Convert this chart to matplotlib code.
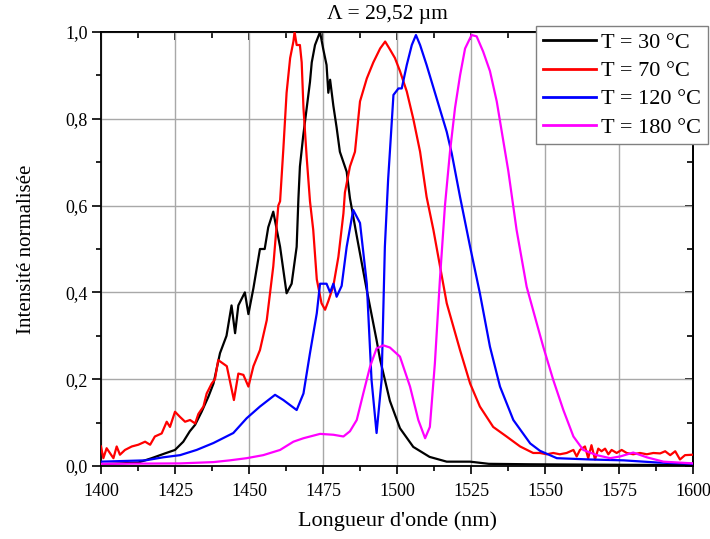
import matplotlib
matplotlib.use("Agg")
import matplotlib.pyplot as plt
from matplotlib.ticker import MultipleLocator, FuncFormatter

plt.rcParams['font.family'] = ['Liberation Serif', 'DejaVu Serif']

title = "Λ = 29,52 µm"
xlabel = "Longueur d'onde (nm)"
ylabel = "Intensité normalisée"
labels = ["T = 30 °C", "T = 70 °C", "T = 120 °C", "T = 180 °C"]
colors = ["#000000", "#ff0000", "#0000ff", "#ff00ff"]

# T = 30 °C
x30 = [1400, 1412.6, 1417.1, 1421.6, 1425, 1427.8, 1430, 1431.8, 1434, 1436.3, 1438,
       1440.2, 1442.4, 1444.1, 1445.3, 1446.4, 1448.6, 1449.8, 1451.5, 1453.7, 1455.3,
       1456.5, 1458.2, 1460.5, 1462.7, 1464.4, 1466.1, 1466.7, 1467.2, 1468.3, 1469.5,
       1470.6, 1471.2, 1472.3, 1474, 1475.1, 1476.2, 1476.8, 1477.4, 1478.5, 1479.6,
       1480.7, 1483, 1484.1, 1486.4, 1489.8, 1493.1, 1494.3, 1497.6, 1501, 1505.5,
       1511, 1516.8, 1524.7, 1531, 1545, 1570, 1600]
y30 = [0.004, 0.008, 0.018, 0.029, 0.037, 0.056, 0.08, 0.095, 0.125, 0.16, 0.19,
       0.26, 0.30, 0.37, 0.306, 0.37, 0.40, 0.35, 0.41, 0.50, 0.50,
       0.55, 0.586, 0.505, 0.398, 0.42, 0.505, 0.617, 0.69, 0.76, 0.825,
       0.885, 0.93, 0.97, 1.0, 0.96, 0.924, 0.86, 0.89, 0.83, 0.78,
       0.724, 0.678, 0.617, 0.53, 0.405, 0.29, 0.245, 0.15, 0.087, 0.044,
       0.021, 0.01, 0.01, 0.005, 0.004, 0.003, 0.002]

# T = 70 °C
x70 = [1400, 1400.8, 1401.9, 1403, 1404.2, 1405.3, 1406.4, 1408.1, 1410.4, 1412.6,
       1414.9, 1416.6, 1418.2, 1420.5, 1422.2, 1423.3, 1425, 1426.7, 1428.4, 1430.1,
       1431.8, 1432.9, 1434.6, 1435.7, 1437.4, 1438.5, 1439.6, 1442.5, 1444.9, 1446.4,
       1448.1, 1449.8, 1451.5, 1453.7, 1456, 1458.2, 1459.9, 1460.5, 1461.6, 1462.7,
       1463.9, 1465, 1465.4, 1466.1, 1467.2, 1467.8, 1468.4, 1469.5, 1470.6, 1471.7,
       1472.9, 1474.5, 1475.7, 1476.8, 1478.5, 1480.2, 1481.9, 1482.4, 1484.1, 1485.8,
       1487.5, 1489.8, 1492, 1494.3, 1496, 1497.6, 1499.3, 1501, 1503.3, 1505.5,
       1507.8, 1510, 1512.3, 1516.8, 1521.3, 1524.7, 1528, 1532.5, 1537, 1541.6,
       1546, 1548.3, 1550.6, 1552.8, 1555, 1557.3, 1559.6, 1560.7, 1561.8, 1563.5,
       1564.6, 1565.7, 1566.9, 1568, 1569.1, 1570.3, 1571.4, 1572.5, 1574.2, 1575.9,
       1577.6, 1579.8, 1582.1, 1584.4, 1586.6, 1588.9, 1590.6, 1592.3, 1594, 1595.6,
       1597.3, 1600]
y70 = [0.045, 0.018, 0.041, 0.03, 0.018, 0.045, 0.026, 0.037, 0.045, 0.049,
       0.056, 0.049, 0.068, 0.075, 0.102, 0.09, 0.125, 0.113, 0.102, 0.106,
       0.098, 0.12, 0.137, 0.167, 0.19, 0.2, 0.244, 0.23, 0.152, 0.213,
       0.21, 0.183, 0.23, 0.267, 0.336, 0.46, 0.60, 0.61, 0.73, 0.86,
       0.94, 0.978, 1.0, 0.97, 0.97, 0.93, 0.825, 0.71, 0.61, 0.544,
       0.43, 0.375, 0.36, 0.38, 0.415, 0.482, 0.582, 0.63, 0.69, 0.724,
       0.84, 0.893, 0.93, 0.962, 0.978, 0.96, 0.94, 0.91, 0.863, 0.80,
       0.724, 0.62, 0.544, 0.375, 0.267, 0.19, 0.137, 0.09, 0.068, 0.045,
       0.03, 0.03, 0.027, 0.03, 0.027, 0.03, 0.037, 0.022, 0.037, 0.045,
       0.018, 0.048, 0.015, 0.04, 0.034, 0.04, 0.027, 0.037, 0.03, 0.037,
       0.03, 0.027, 0.03, 0.027, 0.03, 0.029, 0.034, 0.025, 0.034, 0.015,
       0.025, 0.026]

# T = 120 °C
x120 = [1400, 1415, 1421, 1426.7, 1432.3, 1438, 1444.7, 1449.2, 1453.7, 1458.8,
        1461.6, 1466.1, 1468.4, 1470.6, 1472.9, 1474, 1476.2, 1477.4, 1478.5, 1479.6,
        1481.3, 1483, 1485.2, 1487.5, 1489.8, 1491.4, 1493.1, 1494.8, 1495.9, 1497,
        1497.6, 1498.8, 1500.5, 1501.6, 1503.3, 1505, 1506.4, 1507.8, 1510, 1513.4,
        1516.8, 1518.5, 1521.3, 1524.7, 1528, 1531.4, 1534.8, 1539.3, 1545, 1548.3,
        1554, 1565.3, 1576.6, 1587.9, 1600]
y120 = [0.01, 0.013, 0.02, 0.025, 0.037, 0.053, 0.076, 0.11, 0.137, 0.164,
        0.152, 0.129, 0.167, 0.26, 0.352, 0.42, 0.42, 0.40, 0.42, 0.39,
        0.415, 0.505, 0.59, 0.56, 0.42, 0.198, 0.076, 0.198, 0.505, 0.66,
        0.724, 0.855, 0.87, 0.87, 0.924, 0.97, 0.993, 0.97, 0.924, 0.847,
        0.77, 0.72, 0.62, 0.505, 0.398, 0.275, 0.183, 0.106, 0.052, 0.035,
        0.018, 0.015, 0.013, 0.008, 0.005]

# T = 180 °C
x180 = [1400, 1426.7, 1438, 1443.5, 1449.2, 1454.8, 1460.5, 1465, 1468.4, 1474,
        1478.5, 1481.9, 1484.1, 1486.4, 1488.6, 1490.9, 1493.1, 1495.4, 1497.6, 1501,
        1504.4, 1507.2, 1509.5, 1511.1, 1512.8, 1514.5, 1516.2, 1517.9, 1519.6, 1521.3,
        1523, 1525.2, 1526.9, 1529.1, 1531.4, 1533.7, 1535.4, 1537.6, 1540.4, 1543.8,
        1547.2, 1549.4, 1552.8, 1556.2, 1559.6, 1562.9, 1567.5, 1572, 1575.4, 1579.8,
        1584.4, 1590, 1600]
y180 = [0.005, 0.006, 0.009, 0.013, 0.018, 0.025, 0.037, 0.056, 0.064, 0.074,
        0.072, 0.068, 0.08, 0.106, 0.167, 0.229, 0.271, 0.278, 0.273, 0.252,
        0.183, 0.106, 0.064, 0.09, 0.237, 0.43, 0.60, 0.724, 0.825, 0.90,
        0.962, 0.993, 0.99, 0.955, 0.91, 0.84, 0.77, 0.68, 0.544, 0.413,
        0.329, 0.275, 0.198, 0.129, 0.068, 0.037, 0.025, 0.018, 0.022, 0.031,
        0.02, 0.01, 0.006]

series = [(x30, y30), (x70, y70), (x120, y120), (x180, y180)]

fig = plt.figure(figsize=(7.10, 5.39), dpi=100)
ax = fig.add_axes([101/710, 1 - 466/539, (693 - 101)/710, (466 - 32)/539])

for (xs, ys), c, lab in zip(series, colors, labels):
    ax.plot(xs, ys, color=c, lw=1.6, label=lab, zorder=3)

ax.set_xlim(1400, 1600)
ax.set_ylim(0, 1.0)
ax.xaxis.set_major_locator(MultipleLocator(25))
ax.xaxis.set_minor_locator(MultipleLocator(12.5))
ax.yaxis.set_major_locator(MultipleLocator(0.2))
ax.yaxis.set_minor_locator(MultipleLocator(0.1))
ax.yaxis.set_major_formatter(FuncFormatter(lambda v, p: f"{v:.1f}".replace('.', ',')))
ax.grid(True, which='major', color='#a8a8a8', lw=1.0, zorder=0)

for sp in ax.spines.values():
    sp.set_linewidth(1.3)
ax.tick_params(which='both', direction='out', labelsize=13, width=1.2)
ax.tick_params(axis='x', which='major', length=6, pad=6)
ax.tick_params(axis='y', which='major', length=6.5, pad=3)
ax.tick_params(which='minor', length=3.5)
# inward ticks on top/right
ax2x = ax.secondary_xaxis('top')
ax2x.xaxis.set_major_locator(MultipleLocator(25))
ax2x.xaxis.set_minor_locator(MultipleLocator(12.5))
ax2x.tick_params(which='both', direction='in', labeltop=False, width=1.2)
ax2x.tick_params(which='major', length=6)
ax2x.tick_params(which='minor', length=4)
ax2x.spines['top'].set_linewidth(1.3)
ax2y = ax.secondary_yaxis('right')
ax2y.yaxis.set_major_locator(MultipleLocator(0.2))
ax2y.yaxis.set_minor_locator(MultipleLocator(0.1))
ax2y.tick_params(which='both', direction='in', labelright=False, width=1.2)
ax2y.tick_params(which='major', length=6)
ax2y.tick_params(which='minor', length=4)
ax2y.spines['right'].set_linewidth(1.3)

ax.set_xlabel(xlabel, fontsize=16, labelpad=8)
ax.set_ylabel(ylabel, fontsize=15, labelpad=21)
fig.text(387/710, 1 - 14/539, title, fontsize=15.5, ha='center', va='center')

leg = fig.legend(loc='upper left', bbox_to_anchor=(536/710, 1 - 26/539),
                 bbox_transform=fig.transFigure, fontsize=16, frameon=True,
                 fancybox=False, edgecolor='#808080', framealpha=1,
                 handlelength=2.4, handletextpad=0.23, labelspacing=0.34,
                 borderpad=0.3, borderaxespad=0)
leg.get_frame().set_linewidth(1.0)
for h in leg.get_lines():
    h.set_linewidth(2.0)
leg.set_zorder(10)

fig.savefig("out.png", dpi=100)
